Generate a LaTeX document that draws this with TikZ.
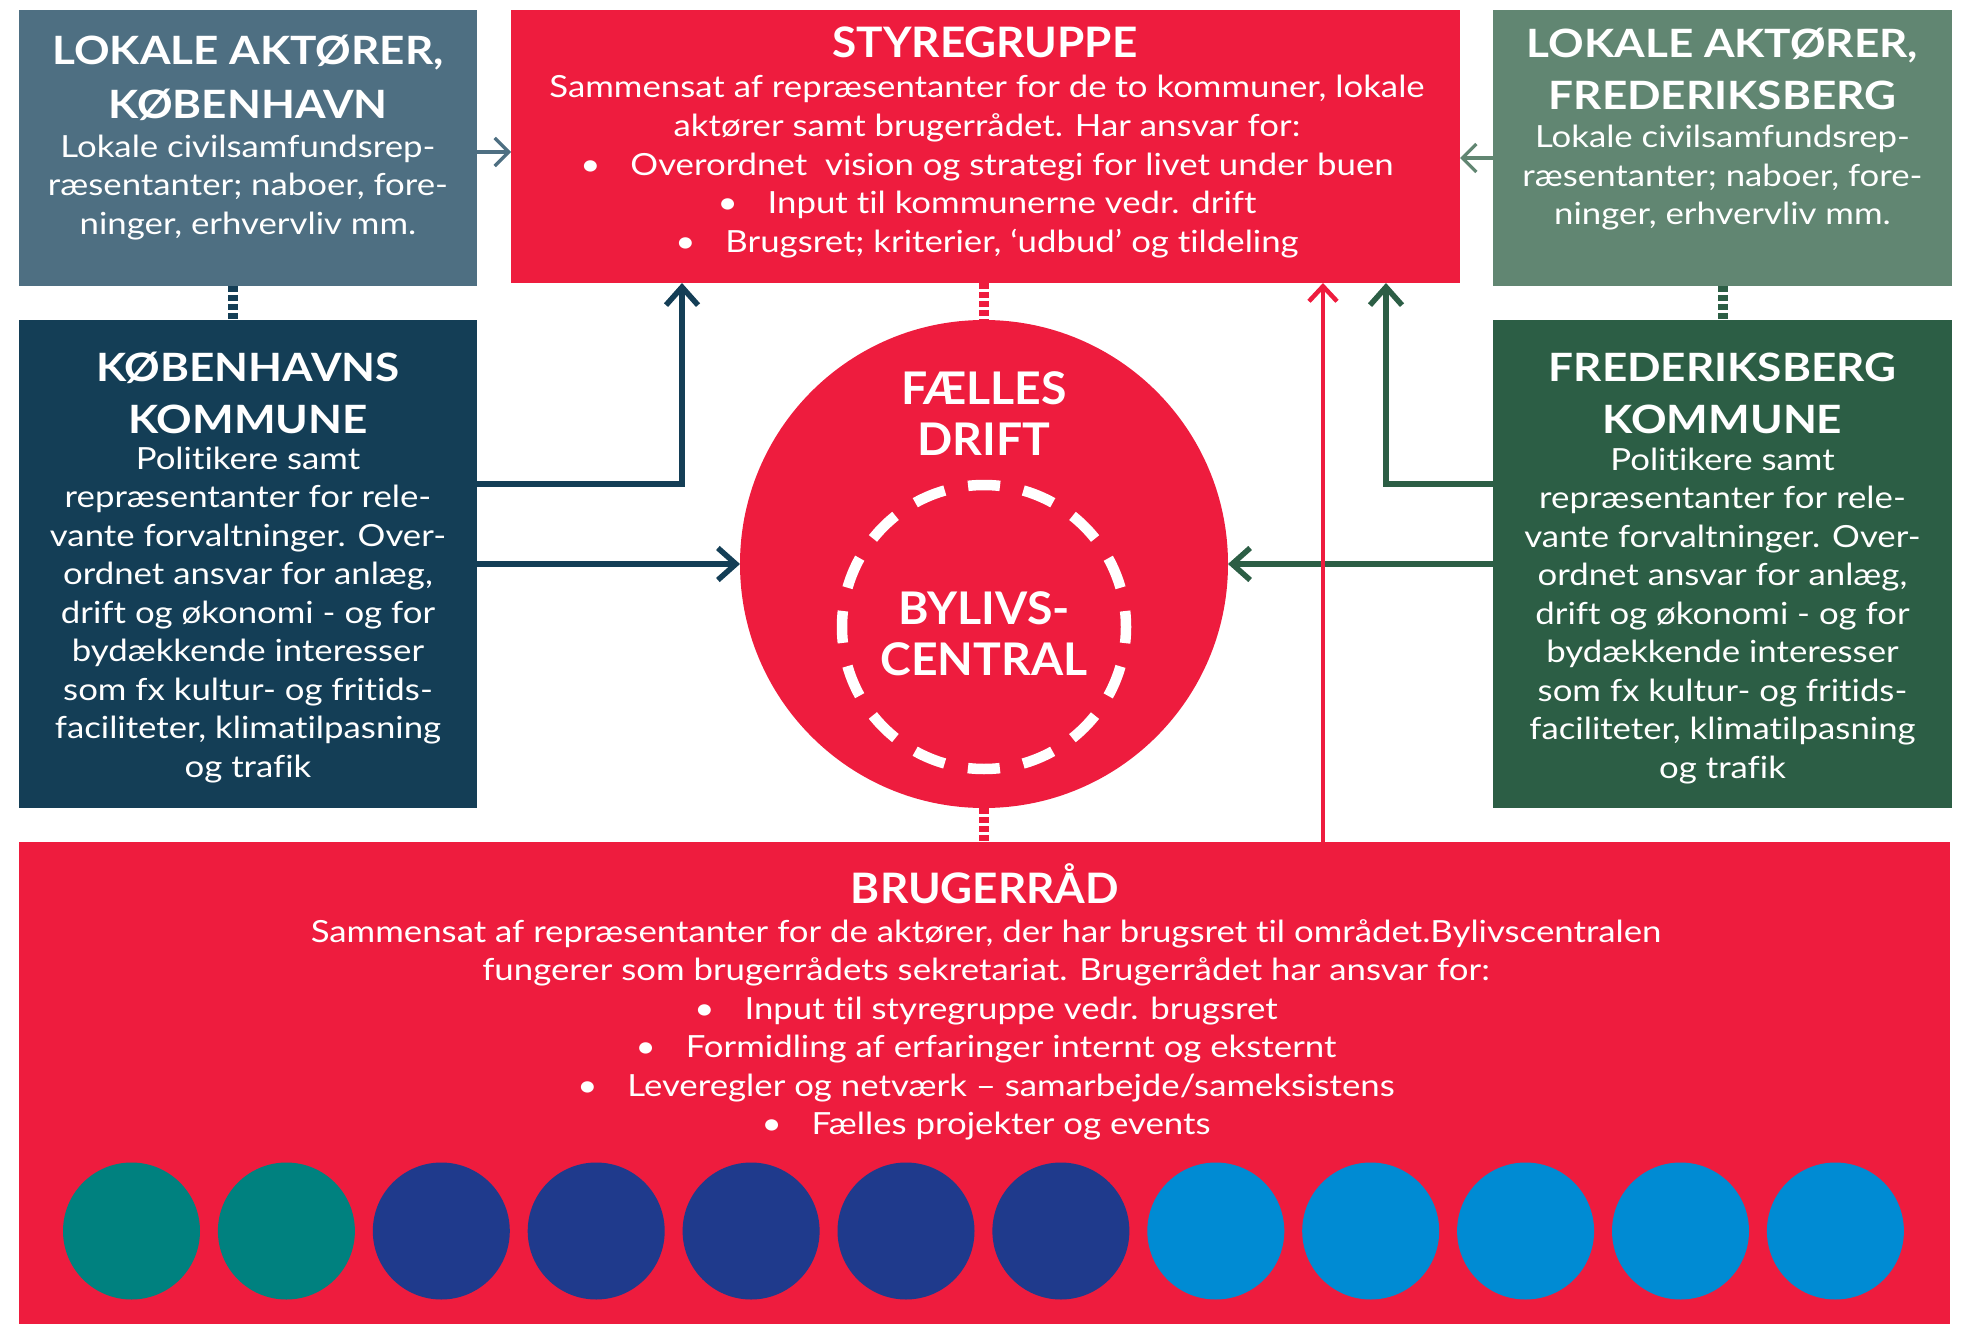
\documentclass[tikz,border=0pt]{standalone}
\usepackage{fontspec}
\setmainfont{Lato}
\newfontfamily\famBody[FakeStretch=1.14,RawFeature={-liga;-clig;-calt;-dlig}]{Lato}
\newfontfamily\famTitle[FakeStretch=1.13,RawFeature={-liga;-clig;-calt;-dlig}]{Lato}
\newfontfamily\famHead[FakeStretch=1.05,RawFeature={-liga;-clig;-calt;-dlig}]{Lato}
\newfontfamily\famBig[FakeStretch=1.03,RawFeature={-liga;-clig;-calt;-dlig}]{Lato}
\usetikzlibrary{arrows.meta}
\definecolor{cLAK}{HTML}{4E6F82}
\definecolor{cKK}{HTML}{143E56}
\definecolor{cLAF}{HTML}{618672}
\definecolor{cFK}{HTML}{2C5E45}
\definecolor{cRed}{HTML}{EE1C3E}
\definecolor{cTeal}{HTML}{00817F}
\definecolor{cNavy}{HTML}{1F3A8C}
\definecolor{cSky}{HTML}{008BD3}
\newcommand\myBody{\famBody\fontsize{30.5}{38.5}\selectfont}
\newcommand\myTitle{\famTitle\bfseries\fontsize{39}{50}\selectfont}
\newcommand\myHead{\famHead\bfseries\fontsize{42}{50}\selectfont}
\newcommand\myBig{\famBig\bfseries\fontsize{45}{50}\selectfont}
\tikzset{
  box/.style={rectangle, inner sep=0pt, outer sep=0pt, draw=none},
  txt/.style={text=white, inner sep=0pt, anchor=base},
  bodytxt/.style={txt, font=\myBody},
  titletxt/.style={txt, font=\myTitle},
  headtxt/.style={txt, font=\myHead},
  bigtxt/.style={txt, font=\myBig},
  conn/.style={line width=5.5pt, -{Straight Barb[length=18pt,width=32pt]}},
  thinconn/.style={line width=3.3pt, -{Straight Barb[length=14pt,width=28pt]}},
  redconn/.style={line width=4.5pt, draw=cRed, -{Straight Barb[length=15pt,width=28pt]}},
  dots/.style={line width=10.5pt, dash pattern=on 6pt off 3pt}
}
\begin{document}
\begin{tikzpicture}[x=1pt,y=-1pt]
\useasboundingbox (0,0) rectangle (1963,1324);
% boxes
\node[box, fill=cLAK, minimum width=458pt, minimum height=276pt] (lak) at (248,148) {};
\node[box, fill=cRed, minimum width=949pt, minimum height=273pt] (styr) at (985.5,146.5) {};
\node[box, fill=cLAF, minimum width=459pt, minimum height=276pt] (laf) at (1722.5,148) {};
\node[box, fill=cKK, minimum width=458pt, minimum height=488pt] (kk) at (248,564) {};
\node[box, fill=cFK, minimum width=459pt, minimum height=488pt] (fk) at (1722.5,564) {};
\node[box, fill=cRed, minimum width=1931pt, minimum height=482pt] (brug) at (984.5,1083) {};
\node[circle, fill=cRed, minimum size=488pt, inner sep=0pt, outer sep=0pt] (circ) at (984,564) {};
\node[circle, draw=white, line width=10.5pt, dash pattern=on 32pt off 23.76pt, dash phase=16pt, minimum size=284pt, inner sep=0pt] (byliv) at (984,627) {};
% helper coordinates
\coordinate (yA) at (0,484);
\coordinate (xK) at (682,0);
\coordinate (xF) at (1386,0);
\coordinate (xR) at (1323,0);
\coordinate (yL) at (0,152);
\coordinate (yR) at (0,158);
\coordinate (xDL) at (233,0);
\coordinate (xDR) at (1723,0);
% connectors
\draw[conn, cKK] (kk.east |- yA) -| (styr.south -| xK);
\draw[conn, cKK] (kk.east |- circ.center) -- (circ.west);
\draw[conn, cFK] (fk.west |- yA) -| (styr.south -| xF);
\draw[conn, cFK] (fk.west |- circ.center) -- (circ.east);
\draw[redconn] (brug.north -| xR) -- (styr.south -| xR);
\draw[thinconn, cLAK] (lak.east |- yL) -- (styr.west |- yL);
\draw[thinconn, cLAF] (laf.west |- yR) -- (styr.east |- yR);
\draw[dots, cKK] (lak.south -| xDL) -- (kk.north -| xDL);
\draw[dots, cFK] (laf.south -| xDR) -- (fk.north -| xDR);
\draw[dots, cRed] (styr.south -| circ.center) -- (circ.north);
\draw[dots, cRed] (circ.south) -- (brug.north -| circ.center);
% texts: lokale aktoerer kbh
\node[titletxt] (lakt1) at (248,65) {LOKALE AKTØRER,};
\node[titletxt] (lakt2) at (248,118.5) {KØBENHAVN};
\foreach \t [count=\i from 0] in {{Lokale civilsamfundsrep-},{ræsentanter; naboer, fore-},{ninger, erhvervliv mm.}}
  \node[bodytxt] (lakb\i) at (248,157.5+38.5*\i) {\t};
% lokale aktoerer frb
\node[titletxt] (laft1) at (1722.5,58) {LOKALE AKTØRER,};
\node[titletxt] (laft2) at (1722.5,110) {FREDERIKSBERG};
\foreach \t [count=\i from 0] in {{Lokale civilsamfundsrep-},{ræsentanter; naboer, fore-},{ninger, erhvervliv mm.}}
  \node[bodytxt] (lafb\i) at (1722.5,148+38.5*\i) {\t};
% styregruppe
\node[headtxt] (styrt) at (985,58) {STYREGRUPPE};
\foreach \t [count=\i from 0] in {{Sammensat af repræsentanter for de to kommuner, lokale},{aktører samt brugerrådet. Har ansvar for:},{\textbullet\hspace{30pt}Overordnet\ \ vision og strategi for livet under buen},{\textbullet\hspace{30pt}Input til kommunerne vedr. drift},{\textbullet\hspace{30pt}Brugsret; kriterier, ‘udbud’ og tildeling}}
  \node[bodytxt] (styrb\i) at (987,97.5+38.8*\i) {\t};
% kommuner
\node[titletxt] (kkt1) at (248,381.7) {KØBENHAVNS};
\node[titletxt] (kkt2) at (248,433) {KOMMUNE};
\node[titletxt] (fkt1) at (1722.5,381.7) {FREDERIKSBERG};
\node[titletxt] (fkt2) at (1722.5,433) {KOMMUNE};
\foreach \t [count=\i from 0] in {{Politikere samt},{repræsentanter for rele-},{vante forvaltninger. Over-},{ordnet ansvar for anlæg,},{drift og økonomi - og for},{bydækkende interesser},{som fx kultur- og fritids-},{faciliteter, klimatilpasning},{og trafik}}
{
  \node[bodytxt] (kkb\i) at (248,469+38.5*\i) {\t};
  \node[bodytxt] (fkb\i) at (1722.5,470+38.5*\i) {\t};
}
% circle
\node[bigtxt] (fael1) at (984,404) {FÆLLES};
\node[bigtxt] (fael2) at (984,455) {DRIFT};
\node[bigtxt] (byl1) at (984,624) {BYLIVS-};
\node[bigtxt] (byl2) at (984,675) {CENTRAL};
% brugerraad
\node[headtxt] (brugt) at (985,903.5) {BRUGERRÅD};
\foreach \t [count=\i from 0] in {{Sammensat af repræsentanter for de aktører, der har brugsret til området.Bylivscentralen},{fungerer som brugerrådets sekretariat. Brugerrådet har ansvar for:},{\textbullet\hspace{30pt}Input til styregruppe vedr. brugsret},{\textbullet\hspace{30pt}Formidling af erfaringer internt og eksternt},{\textbullet\hspace{30pt}Leveregler og netværk – samarbejde/sameksistens},{\textbullet\hspace{30pt}Fælles projekter og events}}
  \node[bodytxt] (brugb\i) at (986,942+38.5*\i) {\t};
% bottom dots
\foreach \c [count=\i from 0] in {cTeal,cTeal,cNavy,cNavy,cNavy,cNavy,cNavy,cSky,cSky,cSky,cSky,cSky}
  \node[circle, fill=\c, minimum size=137pt, inner sep=0pt] (dot\i) at (131.5+154.9*\i,1231) {};
\end{tikzpicture}
\end{document}
